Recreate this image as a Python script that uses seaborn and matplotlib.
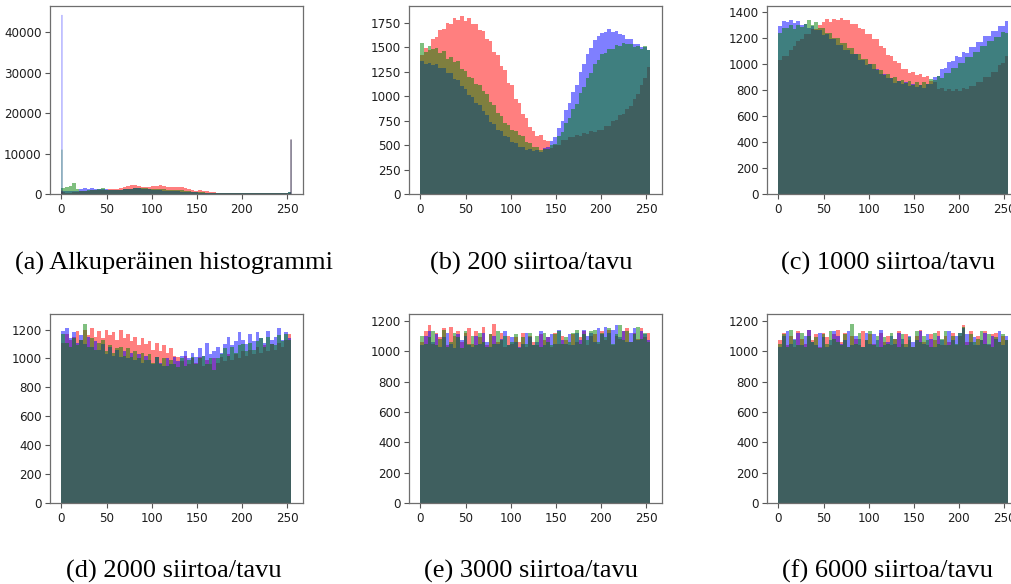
import numpy as np
import pandas as pd
import matplotlib
matplotlib.use("Agg")
import matplotlib.pyplot as plt
import seaborn as sns

# ---------------- data (counts per pixel-value bin, 64 bins over 0..255) ----------------
N_BINS = 64
CHANNEL_ORDER = ["r", "b", "g"]
CHANNEL_COLORS = {"r": "#ff0000", "b": "#0000ff", "g": "#008000"}

A_R = [500, 400, 400, 500, 600, 700, 800, 900, 1000, 1000, 1100, 1100, 1100, 1200, 1300, 1400,
       1500, 1700, 2100, 2400, 2300, 2000, 1800, 1800, 1900, 2000, 2100, 2200, 2000, 1800, 1700, 1700,
       1800, 1800, 1600, 1300, 1000, 900, 1000, 900, 700, 500, 450, 420, 400, 400, 400, 400,
       400, 380, 380, 380, 370, 350, 330, 300, 300, 280, 260, 250, 230, 220, 200, 300]
A_G = [1500, 1800, 2000, 2900, 1400, 900, 900, 1000, 1100, 1100, 1200, 1500, 1100, 1000, 1000, 1050,
       1100, 1200, 1300, 1400, 1500, 1600, 1600, 1500, 1400, 1350, 1300, 1250, 1200, 1150, 1100, 1050,
       1000, 950, 850, 750, 650, 550, 500, 450, 400, 380, 350, 330, 320, 310, 300, 300,
       300, 290, 290, 280, 280, 270, 270, 260, 260, 250, 250, 240, 240, 230, 230, 500]
A_B = [800, 700, 700, 800, 900, 1300, 1500, 1400, 1500, 1400, 1300, 1300, 1200, 1150, 1100, 1100,
       1150, 1200, 1300, 1400, 1500, 1450, 1400, 1300, 1200, 1100, 1000, 950, 900, 850, 800, 750,
       700, 650, 600, 550, 500, 450, 420, 400, 380, 360, 350, 340, 330, 320, 310, 300,
       300, 290, 290, 280, 280, 270, 270, 260, 260, 250, 250, 240, 240, 230, 230, 600]
# single-value spikes of the original histogram (pixel value 0 and 255)
A_SPIKE_LOW = {"r": 1000, "b": 44200, "g": 11000}
A_SPIKE_HIGH = {"r": 13500, "b": 13500, "g": 13500}

B_R = [1420, 1490, 1470, 1580, 1600, 1680, 1690, 1750, 1740, 1800, 1780, 1820, 1770, 1800, 1740, 1740,
       1680, 1670, 1580, 1560, 1450, 1420, 1310, 1270, 1140, 1110, 970, 930, 820, 780, 690, 650,
       590, 600, 550, 540, 470, 500, 500, 550, 550, 580, 580, 610, 590, 630, 620, 650,
       640, 660, 660, 700, 700, 750, 760, 810, 820, 870, 900, 970, 1020, 1110, 1190, 1300]
B_G = [1540, 1450, 1510, 1480, 1490, 1440, 1460, 1380, 1400, 1350, 1360, 1280, 1260, 1200, 1190, 1130,
       1110, 1050, 1020, 940, 910, 830, 800, 730, 710, 660, 650, 600, 590, 530, 520, 480,
       480, 450, 460, 460, 500, 510, 590, 640, 730, 780, 870, 920, 1030, 1090, 1190, 1240,
       1330, 1370, 1430, 1440, 1480, 1480, 1520, 1510, 1540, 1530, 1530, 1500, 1510, 1480, 1510, 1470]
B_B = [1360, 1330, 1340, 1320, 1330, 1290, 1290, 1240, 1240, 1180, 1170, 1100, 1070, 1010, 990, 930,
       910, 850, 810, 740, 720, 660, 650, 590, 580, 530, 520, 480, 480, 450, 460, 440,
       450, 435, 470, 485, 540, 585, 680, 750, 860, 930, 1040, 1120, 1250, 1330, 1430, 1490,
       1570, 1610, 1650, 1660, 1690, 1660, 1670, 1640, 1630, 1580, 1580, 1530, 1530, 1500, 1500, 1470]

C_R = [1030, 1060, 1060, 1110, 1140, 1180, 1190, 1230, 1230, 1270, 1270, 1300, 1320, 1350, 1320, 1350,
       1340, 1355, 1340, 1340, 1310, 1310, 1275, 1270, 1230, 1230, 1190, 1190, 1140, 1120, 1070, 1060,
       1020, 1010, 965, 965, 930, 940, 915, 925, 900, 905, 870, 860, 810, 820, 795, 810,
       790, 810, 795, 820, 805, 835, 830, 865, 865, 900, 900, 940, 940, 990, 1005, 1060]
C_G = [1240, 1280, 1275, 1300, 1270, 1300, 1285, 1310, 1340, 1300, 1320, 1280, 1280, 1240, 1240, 1200,
       1200, 1160, 1160, 1120, 1120, 1080, 1080, 1040, 1040, 1000, 1000, 955, 955, 915, 920, 890,
       900, 870, 880, 855, 868, 842, 860, 838, 860, 850, 885, 875, 905, 895, 935, 930,
       970, 970, 1010, 1010, 1055, 1055, 1095, 1095, 1135, 1135, 1175, 1175, 1210, 1205, 1245, 1240]
C_B = [1290, 1330, 1325, 1340, 1315, 1330, 1300, 1310, 1280, 1295, 1260, 1260, 1225, 1230, 1195, 1190,
       1150, 1145, 1105, 1110, 1075, 1075, 1035, 1035, 995, 1000, 960, 965, 925, 925, 890, 895,
       855, 870, 845, 860, 835, 850, 825, 840, 815, 845, 850, 900, 910, 965, 970, 1015,
       1020, 1060, 1055, 1090, 1085, 1130, 1130, 1170, 1170, 1215, 1215, 1255, 1255, 1290, 1290, 1330]

D_R = [1110, 1170, 1130, 1150, 1190, 1130, 1200, 1160, 1210, 1150, 1190, 1140, 1200, 1160, 1180, 1130,
       1200, 1140, 1170, 1120, 1150, 1090, 1140, 1100, 1120, 1060, 1110, 1050, 1090, 1040, 1070, 1020,
       1010, 980, 1020, 960, 1000, 970, 1010, 950, 990, 960, 1000, 970, 1010, 980, 1030, 990,
       1030, 1000, 1050, 1020, 1060, 1030, 1080, 1040, 1090, 1050, 1100, 1060, 1110, 1080, 1130, 1170]
D_G = [1170, 1110, 1080, 1140, 1090, 1130, 1240, 1080, 1140, 1060, 1110, 1130, 1050, 1090, 1040, 1070,
       1080, 1020, 1070, 1010, 1050, 1000, 1040, 990, 1030, 970, 1010, 960, 1000, 950, 990, 960,
       940, 1000, 950, 990, 1010, 960, 1000, 1020, 960, 1000, 920, 1000, 1030, 1070, 1020, 1080,
       1040, 1090, 1100, 1050, 1110, 1060, 1120, 1140, 1080, 1150, 1100, 1090, 1160, 1120, 1170, 1130]
D_B = [1190, 1210, 1140, 1180, 1110, 1160, 1100, 1150, 1080, 1120, 1060, 1100, 1030, 1080, 1020, 1060,
       1010, 1050, 1000, 1040, 990, 1030, 970, 1020, 990, 960, 1010, 970, 950, 1000, 960, 1010,
       980, 1020, 1050, 1000, 1040, 1010, 1070, 1020, 1110, 1030, 1050, 1080, 1040, 1100, 1150, 1090,
       1120, 1180, 1130, 1100, 1170, 1120, 1180, 1140, 1110, 1190, 1130, 1150, 1210, 1130, 1180, 1140]

E_R = [1060, 1130, 1170, 1050, 1120, 1090, 1150, 1040, 1160, 1100, 1130, 1060, 1120, 1150, 1050, 1130,
       1090, 1160, 1040, 1110, 1180, 1060, 1120, 1030, 1100, 1050, 1090, 1060, 1120, 1030, 1100, 1060,
       1040, 1110, 1070, 1090, 1030, 1120, 1050, 1100, 1070, 1040, 1110, 1060, 1090, 1130, 1040, 1100,
       1110, 1050, 1130, 1070, 1140, 1040, 1100, 1080, 1130, 1150, 1060, 1120, 1080, 1150, 1090, 1120]
E_G = [1100, 1050, 1090, 1130, 1040, 1080, 1140, 1030, 1060, 1120, 1090, 1020, 1130, 1050, 1100, 1040,
       1120, 1060, 1030, 1110, 1050, 1130, 1070, 1100, 1040, 1060, 1110, 1020, 1090, 1050, 1120, 1040,
       1100, 1030, 1120, 1060, 1040, 1110, 1130, 1050, 1090, 1060, 1120, 1140, 1050, 1110, 1070, 1130,
       1140, 1060, 1120, 1090, 1150, 1050, 1110, 1170, 1070, 1130, 1060, 1110, 1160, 1080, 1120, 1060]
E_B = [1040, 1100, 1130, 1060, 1110, 1030, 1090, 1120, 1050, 1020, 1110, 1070, 1100, 1040, 1030, 1100,
       1050, 1120, 1060, 1030, 1100, 1050, 1080, 1130, 1040, 1090, 1060, 1030, 1050, 1120, 1090, 1040,
       1060, 1130, 1040, 1090, 1110, 1050, 1140, 1070, 1050, 1110, 1040, 1120, 1070, 1140, 1100, 1120,
       1060, 1150, 1110, 1160, 1120, 1140, 1170, 1090, 1130, 1060, 1120, 1150, 1070, 1130, 1110, 1070]

F_R = [1070, 1120, 1040, 1100, 1030, 1130, 1080, 1050, 1140, 1070, 1110, 1030, 1120, 1090, 1040, 1110,
       1140, 1060, 1120, 1030, 1100, 1080, 1040, 1130, 1070, 1110, 1050, 1030, 1120, 1060, 1100, 1040,
       1080, 1130, 1050, 1110, 1070, 1030, 1100, 1140, 1060, 1040, 1110, 1070, 1130, 1040, 1100, 1060,
       1120, 1040, 1100, 1170, 1060, 1130, 1040, 1100, 1070, 1130, 1040, 1110, 1120, 1060, 1100, 1070]
F_G = [1050, 1110, 1030, 1140, 1070, 1040, 1120, 1030, 1100, 1060, 1090, 1020, 1110, 1050, 1130, 1080,
       1060, 1040, 1110, 1030, 1180, 1050, 1120, 1030, 1070, 1130, 1040, 1100, 1030, 1090, 1050, 1120,
       1080, 1030, 1110, 1050, 1090, 1030, 1130, 1060, 1100, 1070, 1030, 1120, 1050, 1080, 1130, 1040,
       1100, 1050, 1120, 1160, 1040, 1110, 1060, 1080, 1130, 1050, 1110, 1030, 1090, 1060, 1110, 1070]
F_B = [1030, 1100, 1130, 1050, 1080, 1120, 1040, 1100, 1140, 1060, 1040, 1120, 1090, 1030, 1070, 1130,
       1100, 1050, 1070, 1130, 1040, 1100, 1080, 1030, 1120, 1050, 1110, 1070, 1140, 1040, 1060, 1100,
       1050, 1120, 1080, 1030, 1100, 1060, 1070, 1130, 1050, 1110, 1080, 1030, 1100, 1070, 1040, 1130,
       1070, 1100, 1120, 1150, 1110, 1060, 1090, 1040, 1070, 1120, 1050, 1100, 1080, 1130, 1040, 1100]

CAPTIONS = ["(a) Alkuperäinen histogrammi", "(b) 200 siirtoa/tavu", "(c) 1000 siirtoa/tavu",
            "(d) 2000 siirtoa/tavu", "(e) 3000 siirtoa/tavu", "(f) 6000 siirtoa/tavu"]
X_TICKS = [0, 50, 100, 150, 200, 250]
Y_TICKS = [list(range(0, 40001, 10000)), list(range(0, 1751, 250)), list(range(0, 1401, 200)),
           list(range(0, 1201, 200)), list(range(0, 1201, 200)), list(range(0, 1201, 200))]
Y_TOPS = [46400, 1921, 1446, 1305, 1242, 1242]

PANELS = [
    {"r": A_R, "g": A_G, "b": A_B},
    {"r": B_R, "g": B_G, "b": B_B},
    {"r": C_R, "g": C_G, "b": C_B},
    {"r": D_R, "g": D_G, "b": D_B},
    {"r": E_R, "g": E_G, "b": E_B},
    {"r": F_R, "g": F_G, "b": F_B},
]

# ---------------- figure ----------------
sns.set_theme(style="ticks")
plt.rcParams["font.family"] = ["DejaVu Sans"]

W, H = 1012, 584
fig = plt.figure(figsize=(W / 100, H / 100), dpi=100)
fig.patch.set_facecolor("white")

col_left = [50, 409, 767]
ax_w = 253
rows = [(6, 194.3), (314.3, 503.3)]
cap_x = [174, 531, 888]
cap_y = [263, 571]

edges = [float(e) for e in np.linspace(0, 255, N_BINS + 1)]
centers = [(edges[i] + edges[i + 1]) / 2 for i in range(N_BINS)]


def draw_channel(ax, xs, ws, bins, ch, **kw):
    df = pd.DataFrame({"value": xs, "count": ws})
    sns.histplot(data=df, x="value", weights="count", bins=bins, color=CHANNEL_COLORS[ch],
                 alpha=0.5, linewidth=0, ax=ax, element="bars", fill=True, **kw)


for k, data in enumerate(PANELS):
    r, c = divmod(k, 3)
    top, bot = rows[r]
    ax = fig.add_axes([col_left[c] / W, (H - bot) / H, ax_w / W, (bot - top) / H])
    for ch in CHANNEL_ORDER:
        draw_channel(ax, centers, data[ch], edges, ch)
    if k == 0:
        for ch in CHANNEL_ORDER:
            draw_channel(ax, [0.5, 254.5], [A_SPIKE_LOW[ch], A_SPIKE_HIGH[ch]],
                         [0.0, 1.0, 254.0, 255.0], ch, snap=False)
    ax.set_xlim(-12.75, 267.75)
    ax.set_ylim(0, Y_TOPS[k])
    ax.set_xticks(X_TICKS)
    ax.set_yticks(Y_TICKS[k])
    ax.set_xlabel("")
    ax.set_ylabel("")
    ax.set_facecolor("white")
    for s in ax.spines.values():
        s.set_color("#6e6e6e")
        s.set_linewidth(0.9)
    ax.tick_params(axis="both", labelsize=8.6, length=3.5, width=0.8,
                   color="#555555", labelcolor="#1e1e1e", pad=2.5)
    fig.text(cap_x[c] / W, (H - cap_y[r]) / H, CAPTIONS[k], ha="center", va="center",
             fontsize=19, family=["Liberation Serif", "DejaVu Serif"], color="black")

fig.savefig("out.png", dpi=100, facecolor="white")
